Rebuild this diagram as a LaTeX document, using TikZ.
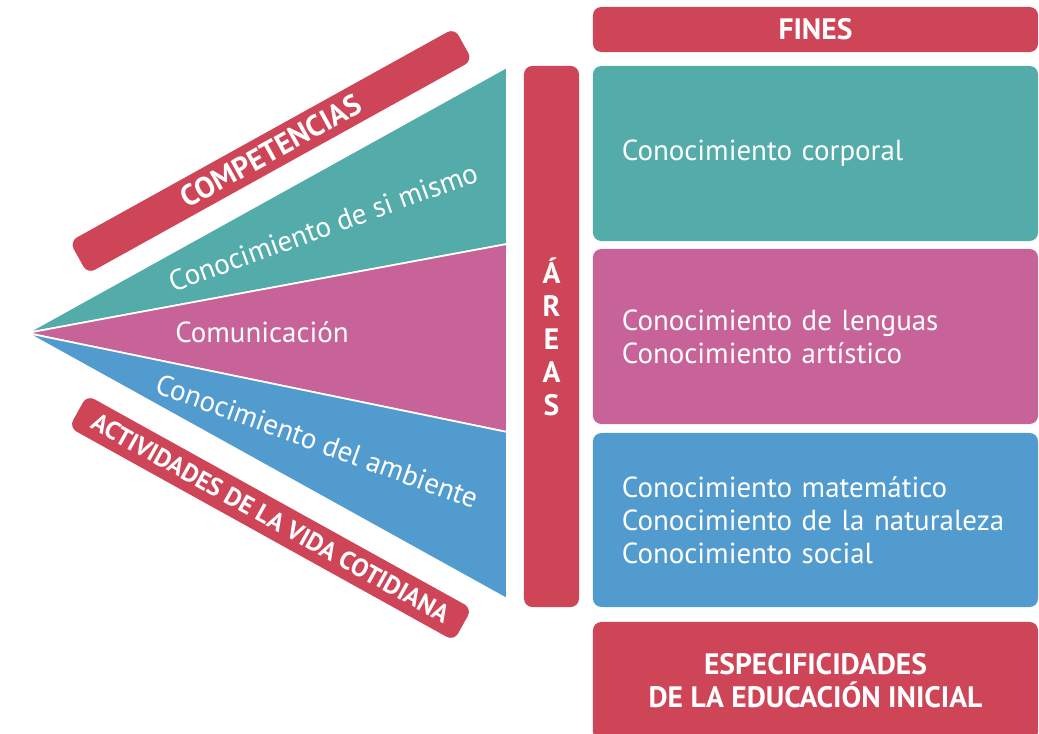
\documentclass[tikz,border=0pt]{standalone}
\usepackage{fontspec}
\setmainfont{PT Sans}
\usetikzlibrary{positioning}
\definecolor{rojo}{RGB}{206,69,88}
\definecolor{verde}{RGB}{83,171,170}
\definecolor{rosa}{RGB}{200,99,153}
\definecolor{azul}{RGB}{82,155,207}
\tikzset{
    bloque/.style={fill=#1, rounded corners=6pt, text=white, inner sep=0pt,
        minimum width=11.125cm, font=\fontsize{20.6}{23.5}\selectfont},
    area/.style={bloque=#1, minimum height=4.375cm, align=left,
        text width=9.675cm, inner xsep=0.725cm},
    titulo/.style={bloque=rojo, align=center,
        font=\fontsize{21}{23.5}\selectfont\bfseries},
    franja/.style={fill=rojo, rounded corners=6pt, text=white, inner sep=0pt,
        minimum width=11cm, minimum height=0.925cm,
        font=\fontsize{21}{23.5}\selectfont\bfseries},
    cuna/.style={draw=white, line width=1.2pt, line join=round},
    rotulo/.style={text=white, font=\fontsize{20.6}{23.5}\selectfont}
}
\begin{document}
\begin{tikzpicture}[x=0.025cm, y=-0.025cm]
    \useasboundingbox (0,0) rectangle (1039,734);

    \coordinate (vertice) at (27,333);
    \coordinate (v1) at (507,67);
    \coordinate (v2) at (507,244);
    \coordinate (v3) at (507,432);
    \coordinate (v4) at (507,599);

    \filldraw[cuna, fill=verde] (vertice) -- (v1) -- (v2) -- cycle;
    \filldraw[cuna, fill=rosa] (vertice) -- (v2) -- (v3) -- cycle;
    \filldraw[cuna, fill=azul] (vertice) -- (v3) -- (v4) -- cycle;

    \node[rotulo, rotate=20] (simismo) at (323,227) {Conocimiento de si mismo};
    \node[rotulo] (comunicacion) at (262,332) {Comunicación};
    \node[rotulo, rotate=-20] (ambiente) at (317,441) {Conocimiento del ambiente};

    \node[franja, rotate=29] (competencias) at (271,151) {COMPETENCIAS};
    \node[franja, rotate=-29, font=\fontsize{18}{20}\selectfont\bfseries] (actividades)
        at (270.5,518) {ACTIVIDADES DE LA VIDA COTIDIANA};

    \node[titulo, minimum width=1.375cm, minimum height=13.525cm] (areas) at (551.5,336.5)
        {Á\\R\\E\\A\\S};

    \node[titulo, minimum height=1.125cm] (fines) at (815.5,29.5) {FINES};
    \node[area=verde] (corporal) at (815.5,153.5) {Conocimiento corporal};
    \node[area=rosa] (lenguas) at (815.5,336.5)
        {Conocimiento de lenguas\\Conocimiento artístico};
    \node[area=azul, minimum height=4.35cm] (matematico) at (815.5,520)
        {Conocimiento matemático\\Conocimiento de la naturaleza\\Conocimiento social};
    \node[titulo, minimum height=2.95cm] (especificidades) at (815.5,681)
        {ESPECIFICIDADES\\DE LA EDUCACIÓN INICIAL};
\end{tikzpicture}
\end{document}
